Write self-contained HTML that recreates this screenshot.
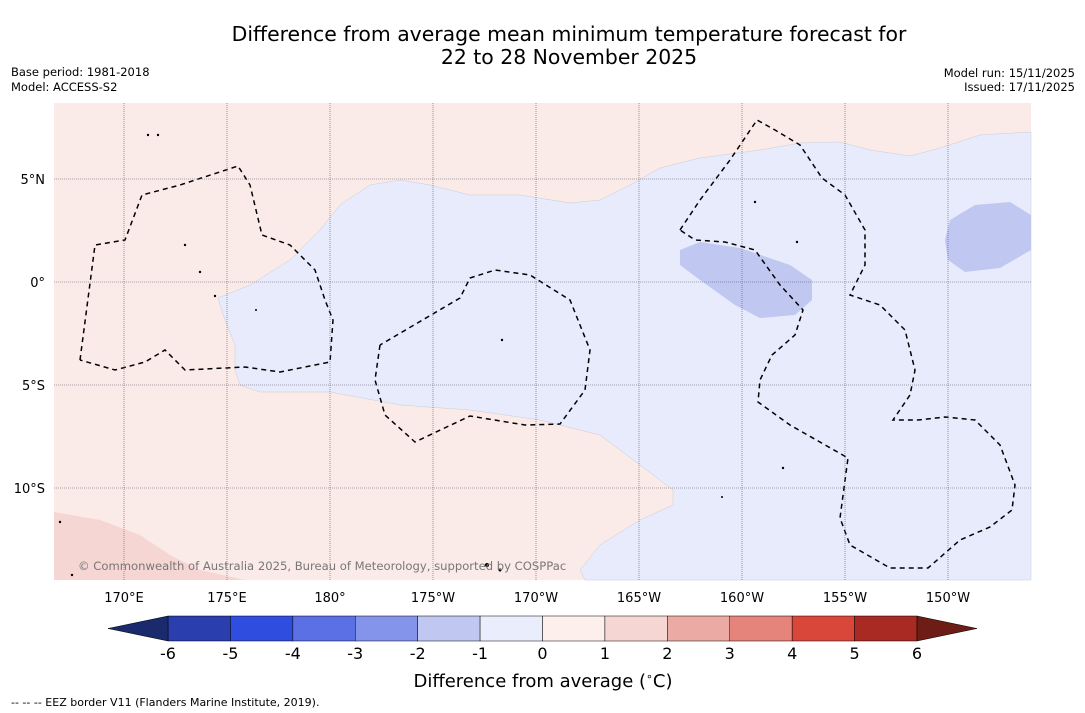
<!DOCTYPE html>
<html><head><meta charset="utf-8">
<style>
body{margin:0;background:#fff;font-family:"Liberation Sans","DejaVu Sans",sans-serif;}
svg{display:block}
</style></head>
<body>
<svg width="1085" height="713" viewBox="0 0 1085 713" xmlns="http://www.w3.org/2000/svg" font-family="DejaVu Sans, Liberation Sans, sans-serif">
<text x="569" y="41" font-size="20.4" text-anchor="middle">Difference from average mean minimum temperature forecast for</text>
<text x="569" y="64" font-size="20.4" text-anchor="middle">22 to 28 November 2025</text>
<text x="11" y="76" font-size="11.5">Base period: 1981-2018</text>
<text x="11" y="91" font-size="11.5">Model: ACCESS-S2</text>
<text x="1075" y="77" font-size="11.5" text-anchor="end">Model run: 15/11/2025</text>
<text x="1075" y="91" font-size="11.5" text-anchor="end">Issued: 17/11/2025</text>

<g>
<rect x="54" y="103" width="977" height="477" fill="#fbebe8"/>
<path fill="#f5d6d2" d="M54,512 L100,520 L140,535 L170,555 L200,570 L245,580 L54,580Z"/>
<path fill="#e8ebfb" stroke="#c8ccd8" stroke-width="0.5" d="M218,298 L250,285 L290,260 L320,230 L340,205 L370,185 L400,180 L430,185 L470,195 L520,195 L570,203 L600,200 L630,185 L660,168 L700,158 L760,150 L800,143 L840,142 L870,150 L910,156 L940,148 L980,135 L1031,132 L1031,580 L585,580 L580,570 L600,545 L640,520 L673,505 L673,490 L640,465 L600,435 L540,420 L470,410 L400,405 L330,392 L260,392 L240,385 L235,370 L235,345 L225,320Z"/>
<path fill="#c0c8f2" d="M680,250 L700,242 L740,248 L790,265 L812,280 L812,300 L795,315 L760,318 L735,305 L700,280 L680,265Z"/>
<path fill="#c0c8f2" d="M950,220 L975,205 L1010,202 L1031,215 L1031,250 L1000,268 L965,272 L948,260 L945,240Z"/>
<g fill="none" stroke="#000" stroke-width="1.5" stroke-dasharray="5,4">
<path d="M80,360 L95,245 L125,240 L142,195 L180,185 L238,166 L250,185 L262,235 L290,245 L315,270 L325,300 L333,320 L330,362 L280,372 L245,367 L185,370 L165,350 L145,362 L115,370 L80,360"/>
<path d="M380,345 L375,380 L385,415 L415,442 L470,416 L525,425 L560,424 L585,390 L590,350 L570,300 L530,275 L495,270 L470,278 L460,298 L380,345"/>
<path d="M680,230 L700,200 L730,160 L757,120 L775,130 L800,145 L822,178 L845,195 L865,230 L865,265 L850,295 L880,305 L905,330 L915,370 L910,395 L893,420 L918,420 L945,417 L975,420 L1000,445 L1015,485 L1012,510 L990,527 L960,540 L928,568 L890,568 L850,545 L840,518 L848,458 L790,425 L758,402 L760,380 L772,355 L795,335 L803,310 L780,285 L755,250 L725,242 L695,240 L680,230"/>
</g>
<g id="grid" stroke="#556" stroke-width="0.6" stroke-dasharray="1,1"></g>
<g fill="#000">
<circle cx="148" cy="135" r="1.2"/><circle cx="158" cy="135" r="1.2"/><circle cx="185" cy="245" r="1.2"/><circle cx="200" cy="272" r="1.2"/><circle cx="215" cy="296" r="1.2"/><circle cx="256" cy="310" r="1"/><circle cx="502" cy="340" r="1.2"/><circle cx="755" cy="202" r="1.2"/><circle cx="797" cy="242" r="1.2"/><circle cx="783" cy="468" r="1.2"/><circle cx="722" cy="497" r="1"/><circle cx="487" cy="565" r="2"/><circle cx="500" cy="570" r="1.5"/><circle cx="60" cy="522" r="1.2"/><circle cx="72" cy="575" r="1.2"/>
</g>
<text x="78" y="570" font-size="11.6" fill="#777">© Commonwealth of Australia 2025, Bureau of Meteorology, supported by COSPPac</text>
</g>
<g id="axes" font-size="13"></g>
<g id="cbar"></g>
<text x="543" y="687" font-size="18" text-anchor="middle">Difference from average (<tspan font-size="11" dy="-7">∘</tspan><tspan dy="7">C)</tspan></text>
<text x="11" y="706" font-size="11">--  --  -- EEZ border V11 (Flanders Marine Institute, 2019).</text>
</svg>
<script>
const lonTicks=[170,175,180,185,190,195,200,205,210];
const lonLabels=["170°E","175°E","180°","175°W","170°W","165°W","160°W","155°W","150°W"];
const latTicks=[5,0,-5,-10];
const latLabels=["5°N","0°","5°S","10°S"];
const cbarBounds=[-6,-5,-4,-3,-2,-1,0,1,2,3,4,5,6];
const cbarColors=["#2a3ead","#2f4ee0","#5a70e4","#8494ea","#c0c8f2","#eaedfb","#fcefec","#f5d6d2","#ebaaa3","#e4847a","#d9473b","#a82a22"];
const NS="http://www.w3.org/2000/svg";
const lonX=l=>124+(l-170)*20.6;
const latY=l=>282-l*20.6;
const grid=document.getElementById('grid'),axes=document.getElementById('axes');
lonTicks.forEach((l,i)=>{
 const ln=document.createElementNS(NS,'line');
 
 
 ln.setAttribute('x1',lonX(l));ln.setAttribute('x2',lonX(l));ln.setAttribute('y1',103);ln.setAttribute('y2',580);grid.appendChild(ln);
 const t=document.createElementNS(NS,'text');
 
 
 t.setAttribute('x',lonX(l));t.setAttribute('y',602);t.setAttribute('text-anchor','middle');t.textContent=lonLabels[i];axes.appendChild(t);
});
latTicks.forEach((l,i)=>{
 const ln=document.createElementNS(NS,'line');
 
 
 ln.setAttribute('x1',54);ln.setAttribute('x2',1031);ln.setAttribute('y1',latY(l));ln.setAttribute('y2',latY(l));grid.appendChild(ln);
 const t=document.createElementNS(NS,'text');
 
 
 t.setAttribute('x',45);t.setAttribute('y',latY(l)+5);t.setAttribute('text-anchor','end');t.textContent=latLabels[i];axes.appendChild(t);
});
const cb=document.getElementById('cbar');
const cx=v=>168+(v+6)*(749/12);
const y0=616,h=25;
cbarColors.forEach((c,i)=>{
 const r=document.createElementNS(NS,'rect');
 
 
 r.setAttribute('x',cx(cbarBounds[i]));r.setAttribute('y',y0);r.setAttribute('width',cx(cbarBounds[i+1])-cx(cbarBounds[i]));r.setAttribute('height',h);r.setAttribute('fill',c);r.setAttribute('stroke','#000');r.setAttribute('stroke-width','0.5');cb.appendChild(r);
});
const tl=document.createElementNS(NS,'polygon');


tl.setAttribute('points',`${cx(-6)},${y0} 108,${y0+h/2} ${cx(-6)},${y0+h}`);tl.setAttribute('fill','#1a2a6c');tl.setAttribute('stroke','#000');tl.setAttribute('stroke-width','0.5');cb.appendChild(tl);
const tr=document.createElementNS(NS,'polygon');


tr.setAttribute('points',`${cx(6)},${y0} 977,${y0+h/2} ${cx(6)},${y0+h}`);tr.setAttribute('fill','#6e1c16');tr.setAttribute('stroke','#000');tr.setAttribute('stroke-width','0.5');cb.appendChild(tr);
cbarBounds.forEach(v=>{
 const t=document.createElementNS(NS,'text');
 
 
 t.setAttribute('x',cx(v));t.setAttribute('y',659);t.setAttribute('font-size','16');t.setAttribute('text-anchor','middle');t.textContent=v;cb.appendChild(t);
});
</script>
</body></html>
